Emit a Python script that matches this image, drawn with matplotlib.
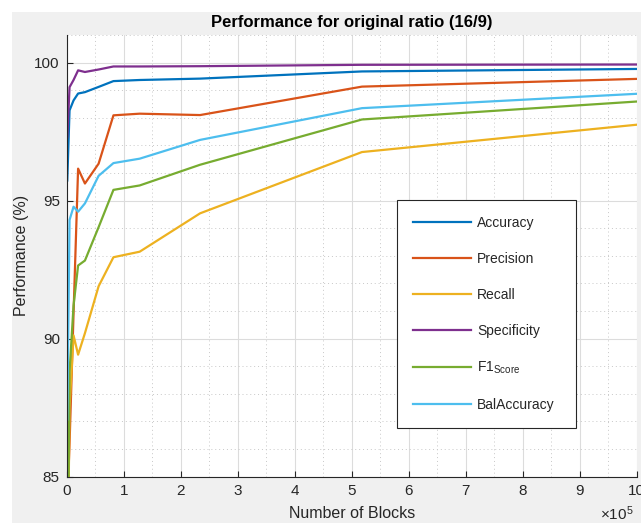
import numpy as np
import matplotlib.pyplot as plt
from matplotlib.patches import Rectangle
from matplotlib.ticker import MultipleLocator, FuncFormatter

plt.rcParams['font.family'] = ['Liberation Sans', 'DejaVu Sans']
plt.rcParams['mathtext.fontset'] = 'custom'
plt.rcParams['mathtext.rm'] = 'Liberation Sans'
plt.rcParams['mathtext.it'] = 'Liberation Sans:italic'

# number of blocks and the scores obtained for each
blocks = [1000, 5000, 12000, 20000, 32000, 56000, 82000, 128000, 234000, 518000, 1000000]
accuracy = [95.73, 98.27, 98.63, 98.88, 98.93, 99.12, 99.33, 99.37, 99.42, 99.68, 99.77]
precision = [84.0, 86.2, 90.9, 96.16, 95.62, 96.34, 98.09, 98.15, 98.10, 99.13, 99.41]
recall = [80.0, 87.5, 90.12, 89.42, 90.2, 91.9, 92.95, 93.15, 94.54, 96.76, 97.75]
specificity = [97.3, 99.11, 99.37, 99.72, 99.66, 99.75, 99.86, 99.86, 99.87, 99.92, 99.93]
f1score = [80.0, 88.8, 91.2, 92.65, 92.83, 94.04, 95.39, 95.55, 96.30, 97.94, 98.59]
balaccuracy = [87.07, 94.3, 94.78, 94.6, 94.9, 95.9, 96.36, 96.52, 97.20, 98.35, 98.87]

names = ['Accuracy', 'Precision', 'Recall', 'Specificity', r'F1$_{\mathrm{Score}}$', 'BalAccuracy']
series = [accuracy, precision, recall, specificity, f1score, balaccuracy]
colors = ['#0072bd', '#d95319', '#edb120', '#7e2f8e', '#77ac30', '#4dbeee']

W, H = 641, 523
fig = plt.figure(figsize=(W / 100, H / 100), dpi=100, facecolor='white')
# grey window area, leaving a thin white margin on top and left
fig.patches.append(Rectangle((12 / W, 0), 1, (H - 12) / H, transform=fig.transFigure,
                             facecolor='#f0f0f0', edgecolor='none', zorder=-10))

ax = fig.add_axes([66.7 / W, (H - 476.7) / H, 570 / W, 441.7 / H])
ax.set_facecolor('white')

for vals, name, c in zip(series, names, colors):
    ax.plot(blocks, vals, color=c, lw=1.6, label=name)

ax.set_xlim(0, 1e6)
ax.set_ylim(85, 101)
ax.xaxis.set_major_locator(MultipleLocator(1e5))
ax.xaxis.set_minor_locator(MultipleLocator(0.5e5))
ax.yaxis.set_major_locator(MultipleLocator(5))
ax.yaxis.set_minor_locator(MultipleLocator(1))
ax.xaxis.set_major_formatter(FuncFormatter(lambda v, p: '%d' % round(v / 1e5)))

ax.grid(which='major', color='#dcdcdc', lw=0.8, ls='-')
ax.grid(which='minor', color='#c8c8c8', lw=0.7, ls=(0, (1, 3)))
ax.set_axisbelow(True)

for s in ['top', 'right']:
    ax.spines[s].set_visible(False)
for s in ['left', 'bottom']:
    ax.spines[s].set_color('#262626')
    ax.spines[s].set_linewidth(0.8)
ax.tick_params(which='major', direction='in', length=4, width=0.8, color='#262626',
               labelsize=11, labelcolor='#262626', pad=5)
ax.tick_params(which='minor', length=0)

ax.set_title('Performance for original ratio (16/9)', fontsize=12, fontweight='bold', pad=6)
ax.set_xlabel('Number of Blocks', fontsize=11.5, color='#262626', labelpad=6)
ax.set_ylabel('Performance (%)', fontsize=11.5, color='#262626', labelpad=4)
fig.text(600 / W, (H - 523) / H, r'$\times$10$^{5}$', fontsize=11, color='#262626',
         ha='left', va='bottom')

leg = ax.legend(loc='upper left', bbox_to_anchor=(0.5795, 0.1012, 0.314, 0.5253),
                mode='expand', fontsize=10, fancybox=False, framealpha=1,
                edgecolor='#262626', borderaxespad=0, handlelength=4.2,
                handletextpad=0.4, labelspacing=1.58, borderpad=1.15)
leg.get_frame().set_linewidth(0.8)
for t in leg.get_texts():
    t.set_color('#262626')

fig.savefig('out.png', dpi=100, facecolor=fig.get_facecolor())
